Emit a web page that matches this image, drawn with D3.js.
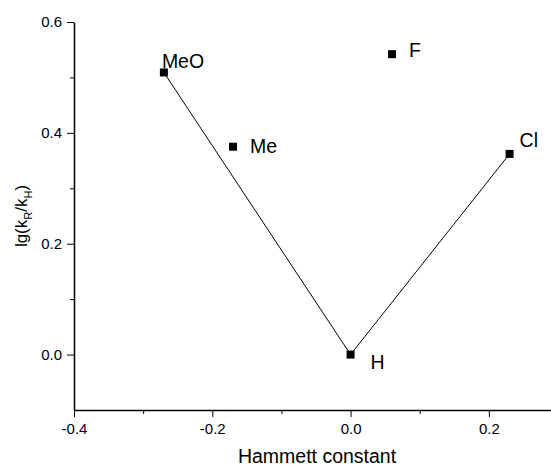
<!DOCTYPE html>
<html>
<head>
<meta charset="utf-8">
<script src="https://d3js.org/d3.v7.min.js"></script>
<style>
  body {margin: 0; background: #fff; font-family: "Liberation Sans", Arial, sans-serif;}
  .axis text {font: 15px "Liberation Sans", Arial, sans-serif; fill: #000;}
  .axis path, .axis line {stroke: #000;}
  .lbl {font: 19.5px "Liberation Sans", Arial, sans-serif;}
</style>
</head>
<body>
<svg id="chart" width="551" height="468"></svg>
<script>
// data
var substituents = ["MeO", "Me", "H", "F", "Cl"];
var sigma = [-0.27, -0.17, 0.0, 0.06, 0.23];
var lgRatio = [0.509, 0.375, 0.0, 0.542, 0.362];
var fitLine = ["MeO", "H", "Cl"];
var xTicks = [-0.4, -0.2, 0.0, 0.2];
var yTicks = [0.0, 0.2, 0.4, 0.6];

var svg = d3.select("#chart"),
    margin = {top: 22, right: 0, bottom: 58, left: 74},
    width = 484,
    height = +svg.attr("height") - margin.top - margin.bottom,
    g = svg.append("g").attr("transform", "translate(" + margin.left + "," + margin.top + ")");

var x = d3.scaleLinear().domain([-0.4, 0.3]).range([0, width]);
var y = d3.scaleLinear().domain([-0.1, 0.6]).range([height, 0]);

var fmt = function(d) { return d3.format(".1f")(d).replace("\u2212", "-"); };

var points = substituents.map(function(s, i) { return {name: s, x: sigma[i], y: lgRatio[i]}; });

// minor ticks
g.append("g")
    .attr("class", "axis")
    .attr("transform", "translate(0," + height + ")")
    .call(d3.axisBottom(x).tickValues([-0.3, -0.1, 0.1]).tickSize(4).tickFormat(""))
    .select(".domain").remove();
g.append("g")
    .attr("class", "axis")
    .call(d3.axisLeft(y).tickValues([0.5, 0.3, 0.1]).tickSize(4).tickFormat(""))
    .select(".domain").remove();

// major axes
g.append("g")
    .attr("class", "axis")
    .attr("transform", "translate(0," + height + ")")
    .call(d3.axisBottom(x).tickValues(xTicks).tickSize(7).tickSizeOuter(0).tickPadding(6).tickFormat(fmt))
    .select(".domain").attr("stroke-width", 1.5);
g.append("g")
    .attr("class", "axis")
    .call(d3.axisLeft(y).tickValues(yTicks).tickSize(7).tickSizeOuter(0).tickPadding(5).tickFormat(fmt))
    .select(".domain").attr("stroke-width", 1.5);

// connecting line
var linePts = fitLine.map(function(n) { return points.find(function(p) { return p.name === n; }); });
g.append("path")
    .datum(linePts)
    .attr("fill", "none")
    .attr("stroke", "#000")
    .attr("stroke-width", 1)
    .attr("d", d3.line().x(function(d) { return x(d.x); }).y(function(d) { return y(d.y); }));

// markers
g.selectAll("rect.pt")
    .data(points)
    .enter().append("rect")
    .attr("class", "pt")
    .attr("x", function(d) { return x(d.x) - 4; })
    .attr("y", function(d) { return y(d.y) - 4; })
    .attr("width", 8)
    .attr("height", 8)
    .attr("fill", "#000");

// point labels
var offs = {MeO: [-2, -4], Me: [17, 6], H: [20, 14], F: [17, 3], Cl: [10, -7]};
g.selectAll("text.lbl")
    .data(points)
    .enter().append("text")
    .attr("class", "lbl")
    .attr("x", function(d) { return x(d.x) + offs[d.name][0]; })
    .attr("y", function(d) { return y(d.y) + offs[d.name][1]; })
    .text(function(d) { return d.name; });

// axis titles
svg.append("text")
    .attr("x", 317)
    .attr("y", 463)
    .attr("text-anchor", "middle")
    .style("font-size", "19.5px")
    .text("Hammett constant");

var yt = svg.append("text")
    .attr("transform", "translate(27,216) rotate(-90)")
    .attr("text-anchor", "middle")
    .style("font-size", "17px");
yt.append("tspan").text("lg(k");
yt.append("tspan").attr("dy", 5).style("font-size", "11px").text("R");
yt.append("tspan").attr("dy", -5).text("/k");
yt.append("tspan").attr("dy", 5).style("font-size", "11px").text("H");
yt.append("tspan").attr("dy", -5).text(")");
</script>
</body>
</html>
